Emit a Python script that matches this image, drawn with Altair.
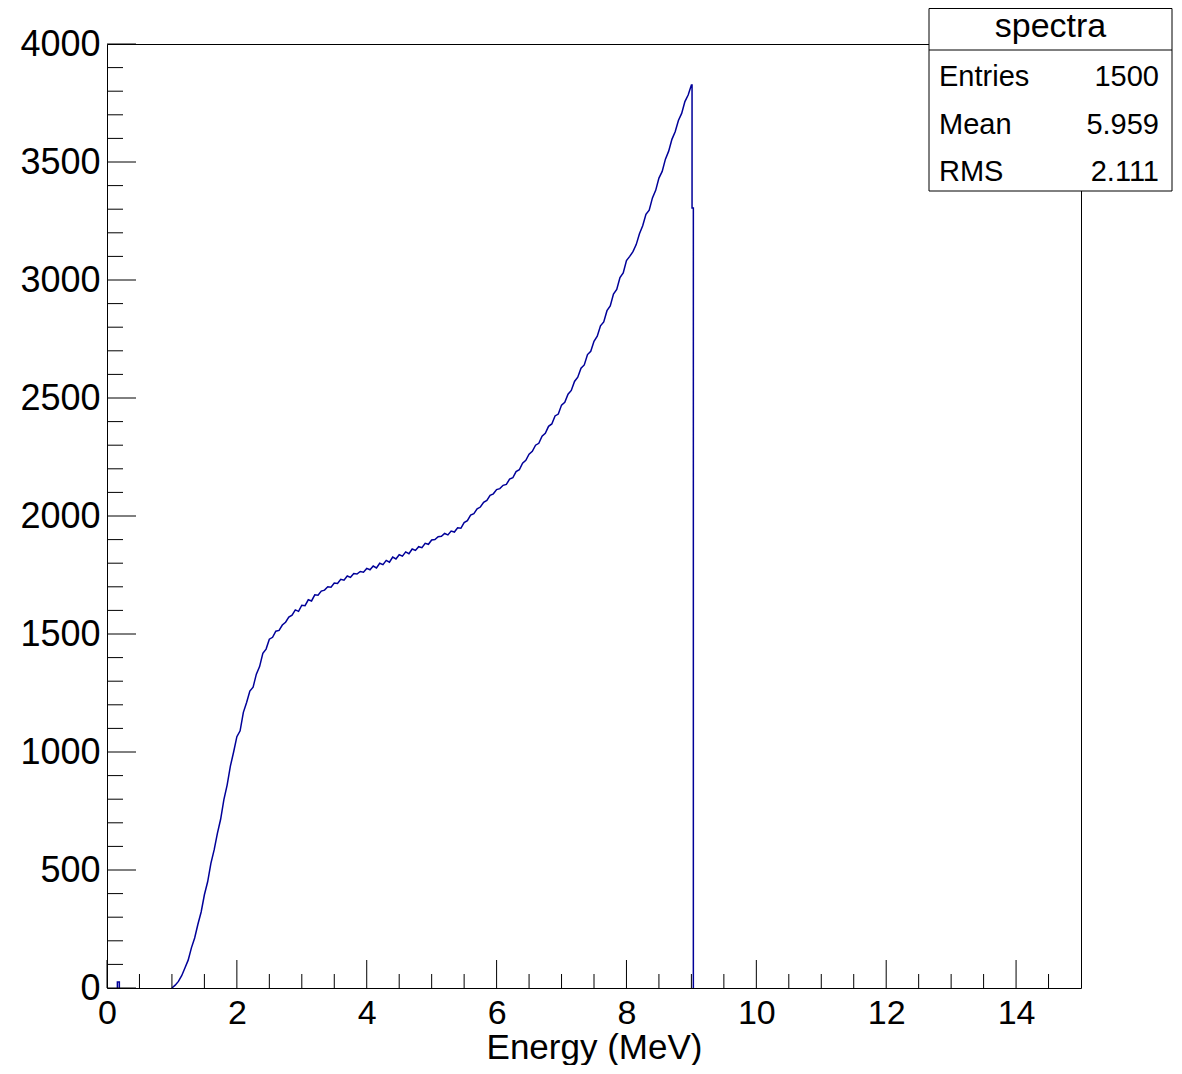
import altair as alt
import pandas as pd

# ---- histogram values (bin grid 0.05 MeV from 1.00 to 9.00) ----
counts = [
    0, 12, 28, 52, 85, 118, 170, 212, 270, 322,
    395, 450, 528, 585, 655, 715, 798, 860, 940, 1000,
    1065, 1090, 1168, 1210, 1258, 1275, 1330, 1362, 1418, 1436,
    1478, 1486, 1512, 1515, 1538, 1550, 1572, 1580, 1602, 1596,
    1622, 1620, 1645, 1640, 1666, 1664, 1682, 1686, 1700, 1698,
    1716, 1714, 1732, 1728, 1746, 1740, 1756, 1754, 1765, 1762,
    1778, 1772, 1788, 1780, 1800, 1794, 1812, 1804, 1826, 1818,
    1836, 1830, 1848, 1840, 1860, 1854, 1870, 1866, 1884, 1880,
    1898, 1900, 1912, 1914, 1926, 1920, 1936, 1932, 1950, 1948,
    1972, 1980, 2004, 2010, 2030, 2038, 2058, 2066, 2088, 2094,
    2112, 2116, 2130, 2134, 2156, 2162, 2188, 2196, 2224, 2236,
    2262, 2274, 2300, 2308, 2338, 2350, 2380, 2390, 2424, 2432,
    2470, 2482, 2516, 2532, 2570, 2588, 2626, 2640, 2684, 2698,
    2740, 2762, 2806, 2822, 2870, 2890, 2940, 2960, 3010, 3030,
    3082, 3100, 3120, 3150, 3196, 3230, 3278, 3296, 3348, 3380,
    3432, 3460, 3512, 3546, 3596, 3628, 3676, 3706, 3756, 3784,
    3826,
]
energies = [round(1.0 + 0.05 * i, 2) for i in range(len(counts))]

# sharp edge after the peak
tail_E = [9.01, 9.01, 9.03, 9.03]
tail_C = [3826, 3305, 3305, 0]

# small blip near zero energy
blip_E = [0.16, 0.16, 0.19, 0.19]
blip_C = [0, 25, 25, 0]

# axis ticks
x_major = [0, 2, 4, 6, 8, 10, 12, 14]
x_minor = [v / 2 for v in range(0, 30) if v % 4 != 0]
y_major = list(range(0, 4001, 500))
y_minor = [v for v in range(0, 4001, 100) if v % 500 != 0]

# stats box
stat_title = "spectra"
stat_names = ["Entries", "Mean", "RMS"]
stat_values = ["1500", "5.959", "2.111"]

# ---- tables ----
rows = []
for e, c in zip(blip_E, blip_C):
    rows.append({"E": e, "C": c, "seg": 0})
for e, c in zip(energies + tail_E, counts + tail_C):
    rows.append({"E": e, "C": c, "seg": 1})
hist = pd.DataFrame(rows)
hist["idx"] = range(len(hist))

W, H = 974, 944
FONT = "Liberation Sans"
xs = alt.Scale(domain=[0, 15], nice=False, zero=False)
ys = alt.Scale(domain=[0, 4000], nice=False)

ax_x = alt.Axis(
    values=x_major, title="Energy (MeV)", ticks=False, domain=False, grid=False,
    labelFontSize=34, labelFont=FONT, labelColor="black", labelPadding=8,
    labelFlush=False, labelOverlap=False,
    titleFontSize=35, titleFont=FONT, titleFontWeight="normal", titleColor="black",
    titleBaseline="alphabetic", titleY=70)
ax_y = alt.Axis(
    values=y_major, title=None, ticks=False, domain=False, grid=False, format="d",
    labelFontSize=36, labelFont=FONT, labelColor="black", labelPadding=7,
    labelFlush=False, labelOverlap=False)

line = alt.Chart(hist).mark_line(color="#000099", strokeWidth=1.5, interpolate="linear").encode(
    x=alt.X("E:Q", scale=xs, axis=ax_x),
    y=alt.Y("C:Q", scale=ys, axis=ax_y),
    detail="seg:N",
    order="idx:Q",
)

def xticks(vals, length):
    return alt.Chart(pd.DataFrame({"E": vals})).mark_rule(color="black", strokeWidth=1).encode(
        x=alt.X("E:Q", scale=xs, axis=ax_x),
        y=alt.value(H), y2=alt.value(H - length))

def yticks(vals, length):
    return alt.Chart(pd.DataFrame({"C": vals})).mark_rule(color="black", strokeWidth=1).encode(
        y=alt.Y("C:Q", scale=ys, axis=ax_y),
        x=alt.value(0), x2=alt.value(length))

one = pd.DataFrame({"k": [0]})

BX0, BX1 = 822, 1065
box = alt.Chart(one).mark_rect(fill="white", stroke="black", strokeWidth=1).encode(
    x=alt.value(BX0), x2=alt.value(BX1), y=alt.value(-35.5), y2=alt.value(147))
divider = alt.Chart(one).mark_rule(color="black", strokeWidth=1).encode(
    x=alt.value(BX0), x2=alt.value(BX1), y=alt.value(6))
title_txt = alt.Chart(one).mark_text(text=stat_title, fontSize=34, font=FONT, color="black",
                                     align="center", baseline="alphabetic").encode(
    x=alt.value((BX0 + BX1) / 2), y=alt.value(-7))

stat_layers = []
for name, val, yb in zip(stat_names, stat_values, [42, 90, 137]):
    stat_layers.append(alt.Chart(one).mark_text(text=name, fontSize=29, font=FONT, color="black",
                                                align="left", baseline="alphabetic").encode(
        x=alt.value(BX0 + 10), y=alt.value(yb)))
    stat_layers.append(alt.Chart(one).mark_text(text=val, fontSize=29, font=FONT, color="black",
                                                align="right", baseline="alphabetic").encode(
        x=alt.value(BX1 - 13), y=alt.value(yb)))

chart = alt.layer(
    line,
    xticks(x_major, 28), xticks(x_minor, 14),
    yticks(y_major, 29), yticks(y_minor, 16),
    box, divider, title_txt, *stat_layers,
).properties(
    width=W, height=H,
    autosize=alt.AutoSizeParams(type="none"),
    padding={"left": 99, "top": 36, "right": 92, "bottom": 77},
    background="white",
).configure_view(stroke="black", strokeWidth=1)

chart.save("out.html", embed_options={"renderer": "svg", "actions": False})
